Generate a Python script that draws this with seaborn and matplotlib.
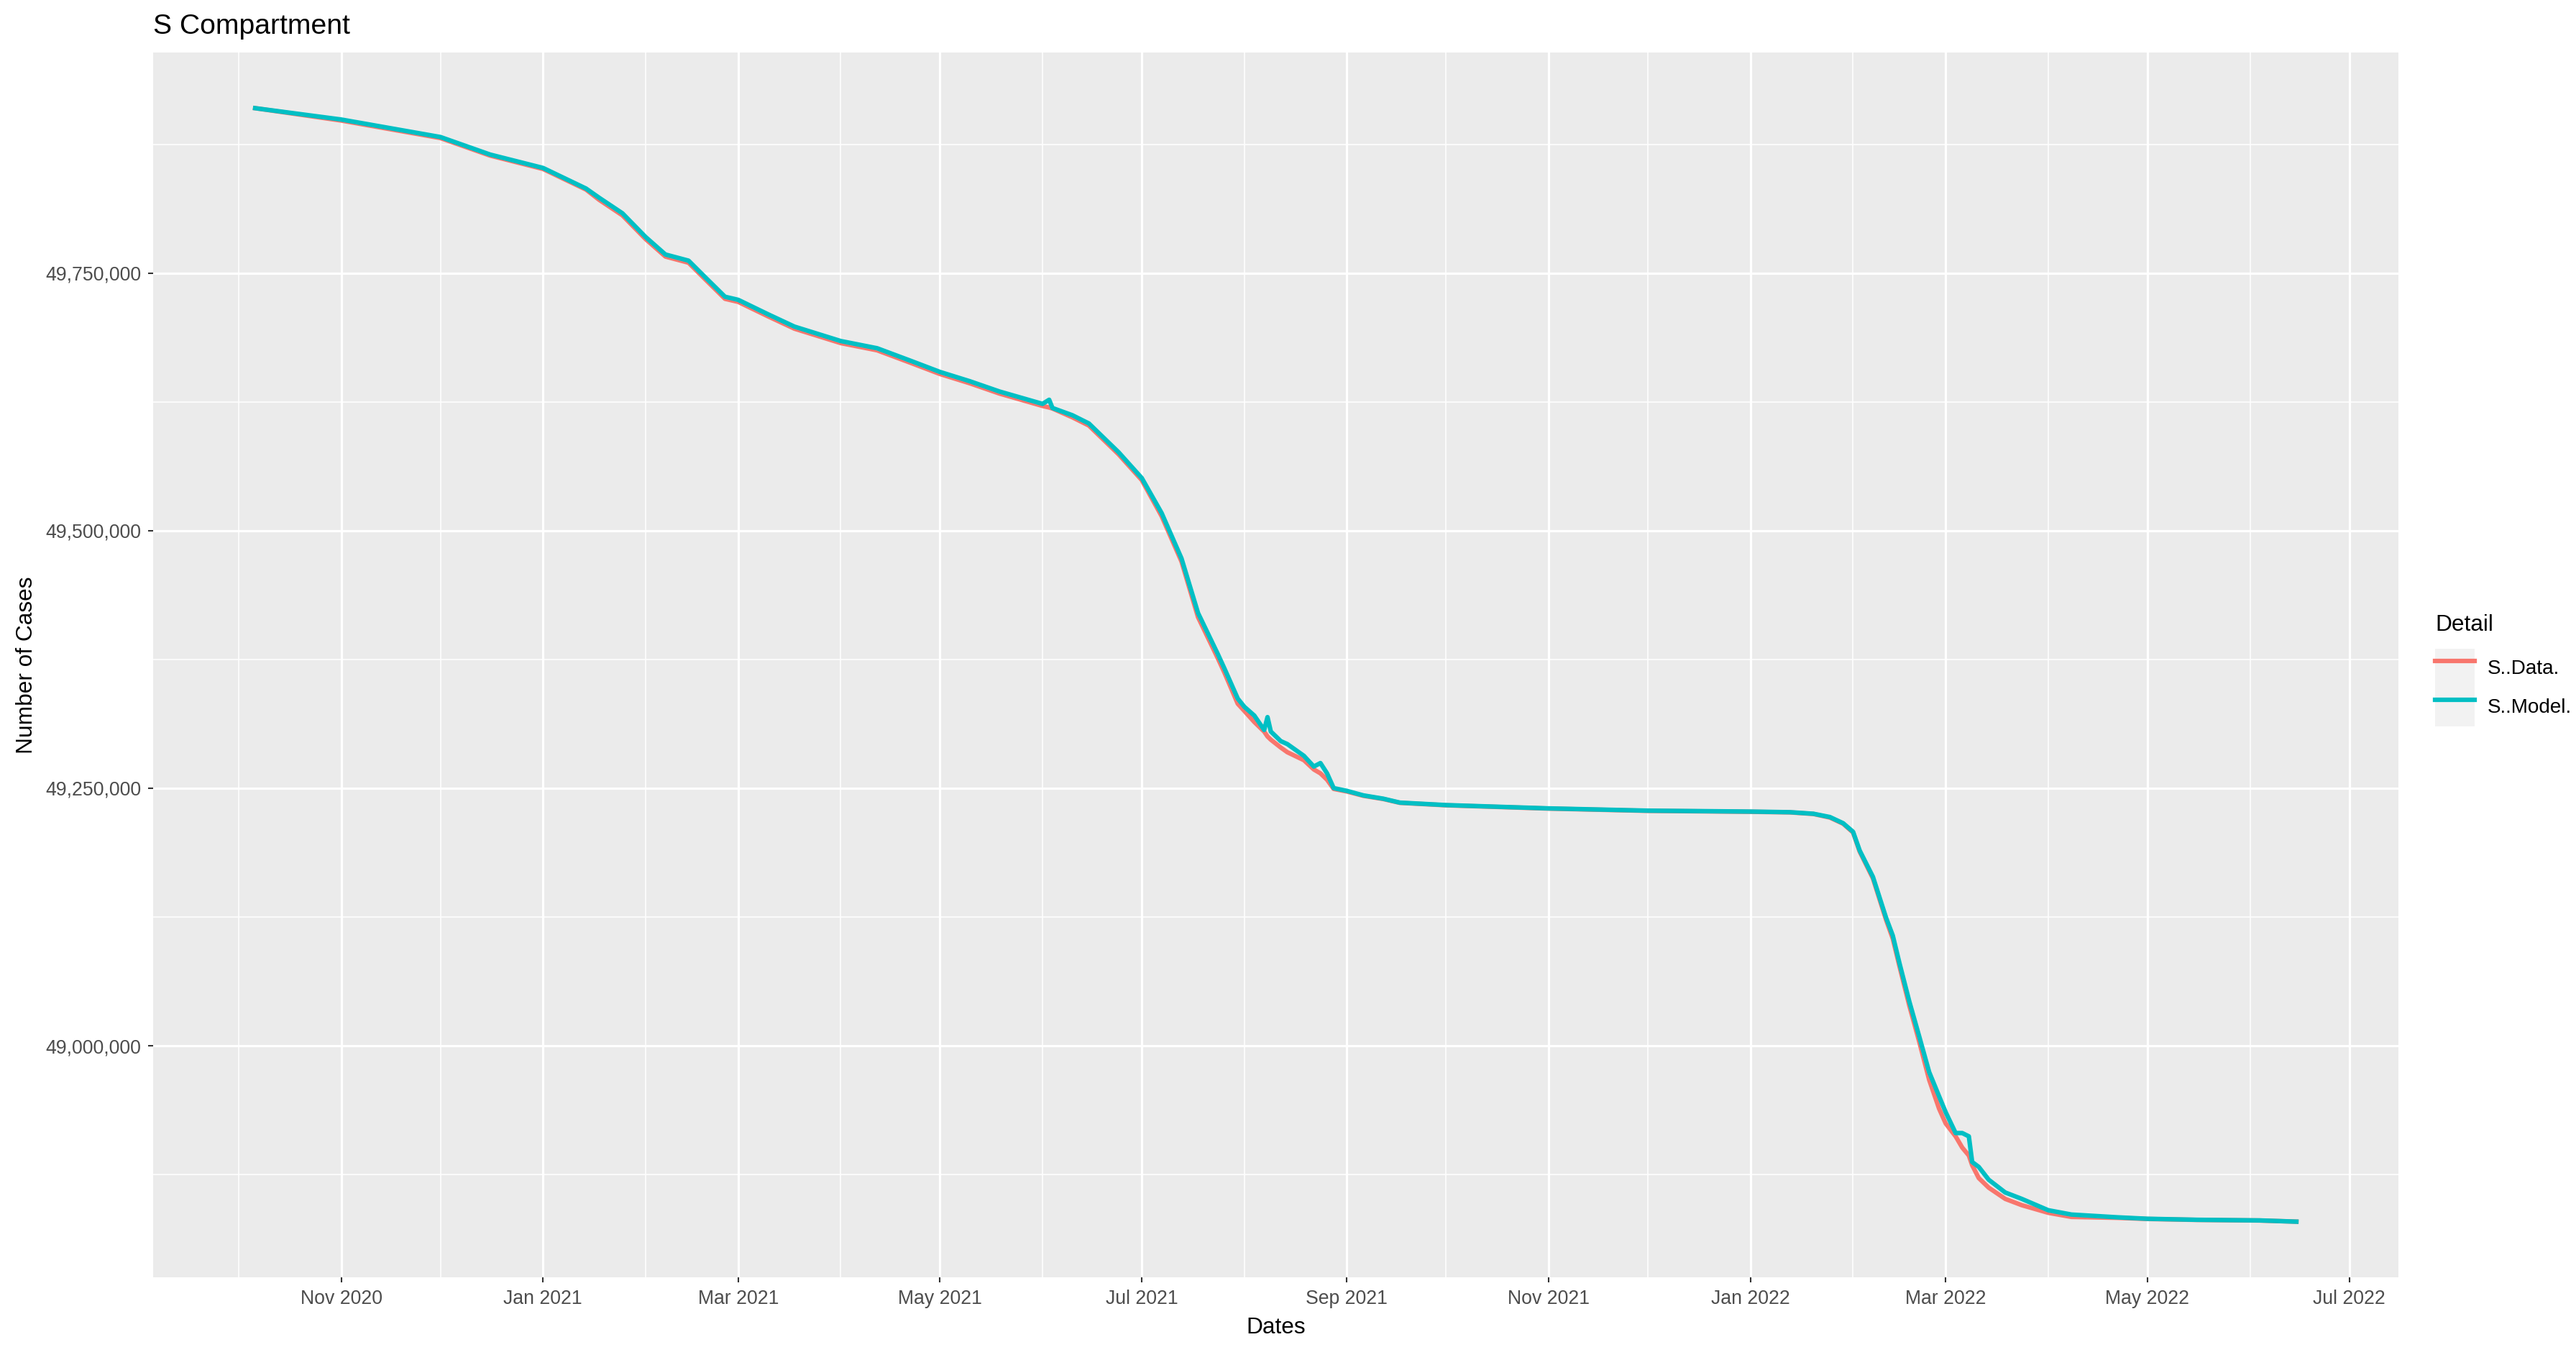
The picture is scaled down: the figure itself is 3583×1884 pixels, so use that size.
import numpy as np
import pandas as pd
import matplotlib
matplotlib.use("Agg")
import matplotlib.pyplot as plt
import matplotlib.dates as mdates
import matplotlib.ticker as mticker
from matplotlib.legend_handler import HandlerTuple
from matplotlib.patches import Patch
from matplotlib.lines import Line2D
import seaborn as sns

# ---------------- data ----------------
dates = [
    "2020-10-06", "2020-11-01", "2020-12-01", "2020-12-16", "2021-01-01", "2021-01-14",
    "2021-01-18", "2021-01-25", "2021-02-01", "2021-02-07", "2021-02-14", "2021-02-19",
    "2021-02-25", "2021-03-01", "2021-03-10", "2021-03-18", "2021-04-01", "2021-04-12",
    "2021-04-22", "2021-05-01", "2021-05-10", "2021-05-19", "2021-06-01", "2021-06-03",
    "2021-06-04", "2021-06-10", "2021-06-15", "2021-06-24", "2021-07-01", "2021-07-07",
    "2021-07-13", "2021-07-18", "2021-07-24", "2021-07-26", "2021-07-30", "2021-08-01",
    "2021-08-04", "2021-08-07", "2021-08-08", "2021-08-09", "2021-08-12", "2021-08-14",
    "2021-08-19", "2021-08-22", "2021-08-24", "2021-08-26", "2021-08-28", "2021-09-01",
    "2021-09-06", "2021-09-12", "2021-09-17", "2021-10-01", "2021-11-01", "2021-12-01",
    "2022-01-01", "2022-01-13", "2022-01-20", "2022-01-25", "2022-01-29", "2022-02-01",
    "2022-02-03", "2022-02-07", "2022-02-11", "2022-02-13", "2022-02-15", "2022-02-18",
    "2022-02-21", "2022-02-24", "2022-02-27", "2022-03-01", "2022-03-04", "2022-03-06",
    "2022-03-08", "2022-03-09", "2022-03-11", "2022-03-14", "2022-03-19", "2022-03-24",
    "2022-04-01", "2022-04-08", "2022-04-22", "2022-05-01", "2022-05-16", "2022-06-04",
    "2022-06-15",
]

s_model = [
    49910000, 49899000, 49882000, 49865000, 49852000, 49832000,
    49823000, 49808000, 49785000, 49768000, 49762000, 49746000,
    49727000, 49724000, 49710000, 49698000, 49684000, 49677000,
    49665000, 49654000, 49645000, 49635000, 49623000, 49627000,
    49619000, 49612000, 49604000, 49576000, 49551000, 49517000,
    49473000, 49420000, 49380000, 49366000, 49337000, 49329000,
    49320500, 49306500, 49319000, 49305000, 49295700, 49292800,
    49281400, 49271000, 49274400, 49264400, 49250100, 49247400,
    49243000, 49239800, 49236000, 49233600, 49230400, 49228200,
    49227300, 49226700, 49225200, 49222000, 49216000, 49207700,
    49189500, 49164000, 49124000, 49107000, 49080500, 49043000,
    49009000, 48974500, 48951000, 48935500, 48915300, 48915300,
    48912100, 48887200, 48882400, 48870000, 48857600, 48851400,
    48840400, 48836200, 48833500, 48832100, 48831100, 48830500,
    48829300,
]

s_data = [
    49910000, 49898000, 49881000, 49864000, 49851000, 49831000,
    49821000, 49806000, 49783000, 49766000, 49760000, 49744000,
    49725000, 49722000, 49708000, 49696000, 49682000, 49675000,
    49663000, 49652000, 49643000, 49633000, 49621000, 49619500,
    49618500, 49610000, 49602000, 49574000, 49549000, 49514000,
    49470000, 49416000, 49376000, 49362000, 49332000, 49325000,
    49314300, 49304900, 49300200, 49297100, 49289500, 49284900,
    49277200, 49268200, 49264400, 49258200, 49249300, 49246800,
    49242600, 49239500, 49235800, 49233400, 49230200, 49228000,
    49227100, 49226500, 49225000, 49221500, 49215500, 49207000,
    49188500, 49162500, 49122000, 49104000, 49077500, 49039000,
    49004000, 48967000, 48939000, 48924600, 48912100, 48901200,
    48893500, 48884100, 48871600, 48862300, 48851400, 48845300,
    48837900, 48833900, 48833000, 48831900, 48831000, 48830400,
    48829300,
]

series_labels = ["S..Data.", "S..Model."]
series_colors = ["#F8766D", "#00BFC4"]

# ---------------- build long table ----------------
assert len(dates) == len(s_model) == len(s_data)
dt = pd.to_datetime(dates)
df = pd.concat([
    pd.DataFrame({"Dates": dt, "Value": s_data, "Detail": series_labels[0]}),
    pd.DataFrame({"Dates": dt, "Value": s_model, "Detail": series_labels[1]}),
], ignore_index=True)

# ---------------- figure ----------------
W, H = 3583, 1884
DPI = 300
plt.rcParams["font.family"] = ["Liberation Sans", "DejaVu Sans"]
fig = plt.figure(figsize=(W / DPI, H / DPI), dpi=DPI, facecolor="white")
ax = fig.add_axes([213 / W, 1 - 1776 / H, (3336 - 213) / W, (1776 - 73) / H])
ax.set_facecolor("#EBEBEB")

palette = dict(zip(series_labels, series_colors))
sns.lineplot(data=df, x="Dates", y="Value", hue="Detail", hue_order=series_labels,
             palette=palette, estimator=None, linewidth=1.5, legend=False, ax=ax,
             zorder=3)

# ggplot-style 5% expansion
xmin, xmax = mdates.date2num(dt.min()), mdates.date2num(dt.max())
xr = xmax - xmin
ax.set_xlim(xmin - 0.05 * xr, xmax + 0.05 * xr)
allv = np.array(s_model + s_data, dtype=float)
ymin, ymax = allv.min(), allv.max()
yr = ymax - ymin
ax.set_ylim(ymin - 0.05 * yr, ymax + 0.05 * yr)

# ticks & grid
ax.xaxis.set_major_locator(mdates.MonthLocator(bymonth=[1, 3, 5, 7, 9, 11]))
ax.xaxis.set_minor_locator(mdates.MonthLocator(bymonth=[2, 4, 6, 8, 10, 12]))
ax.xaxis.set_major_formatter(mdates.DateFormatter("%b %Y"))
ax.yaxis.set_major_locator(mticker.MultipleLocator(250000))
ax.yaxis.set_minor_locator(mticker.MultipleLocator(125000))
ax.yaxis.set_major_formatter(mticker.FuncFormatter(lambda v, p: f"{v:,.0f}"))

ax.grid(which="major", color="white", linewidth=0.75, zorder=0)
ax.grid(which="minor", color="white", linewidth=0.38, zorder=0)
ax.set_axisbelow(True)
for s in ax.spines.values():
    s.set_visible(False)

ax.tick_params(which="major", length=1.6, width=0.5, color="#333333",
               labelsize=6.4, labelcolor="#4D4D4D", pad=2.4)
ax.tick_params(which="minor", length=0)

ax.set_xlabel("Dates", fontsize=7.6, color="black", labelpad=3.0)
ax.set_ylabel("Number of Cases", fontsize=7.6, color="black", labelpad=2.6)

fig.text(213 / W, 1 - 37 / H, "S Compartment", fontsize=9.4, color="black",
         ha="left", va="center")

# legend (ggplot style: grey key background, no frame)
handles = [
    (Patch(facecolor="#F2F2F2", edgecolor="none"), Line2D([], [], color=c, lw=1.5))
    for c in series_colors
]
leg = fig.legend(handles, series_labels, handler_map={tuple: HandlerTuple(ndivide=1, pad=0)},
                 title="Detail", loc="upper left", bbox_to_anchor=(3387 / W, 1 - 854 / H),
                 frameon=False, fontsize=6.7, title_fontsize=7.6,
                 handlelength=1.97, handleheight=2.61, labelspacing=0.0,
                 handletextpad=0.65, borderpad=0, borderaxespad=0, alignment="left")
try:
    leg._legend_box.sep = 4.2
except Exception:
    pass

fig.savefig("out.png", dpi=DPI, facecolor="white")
